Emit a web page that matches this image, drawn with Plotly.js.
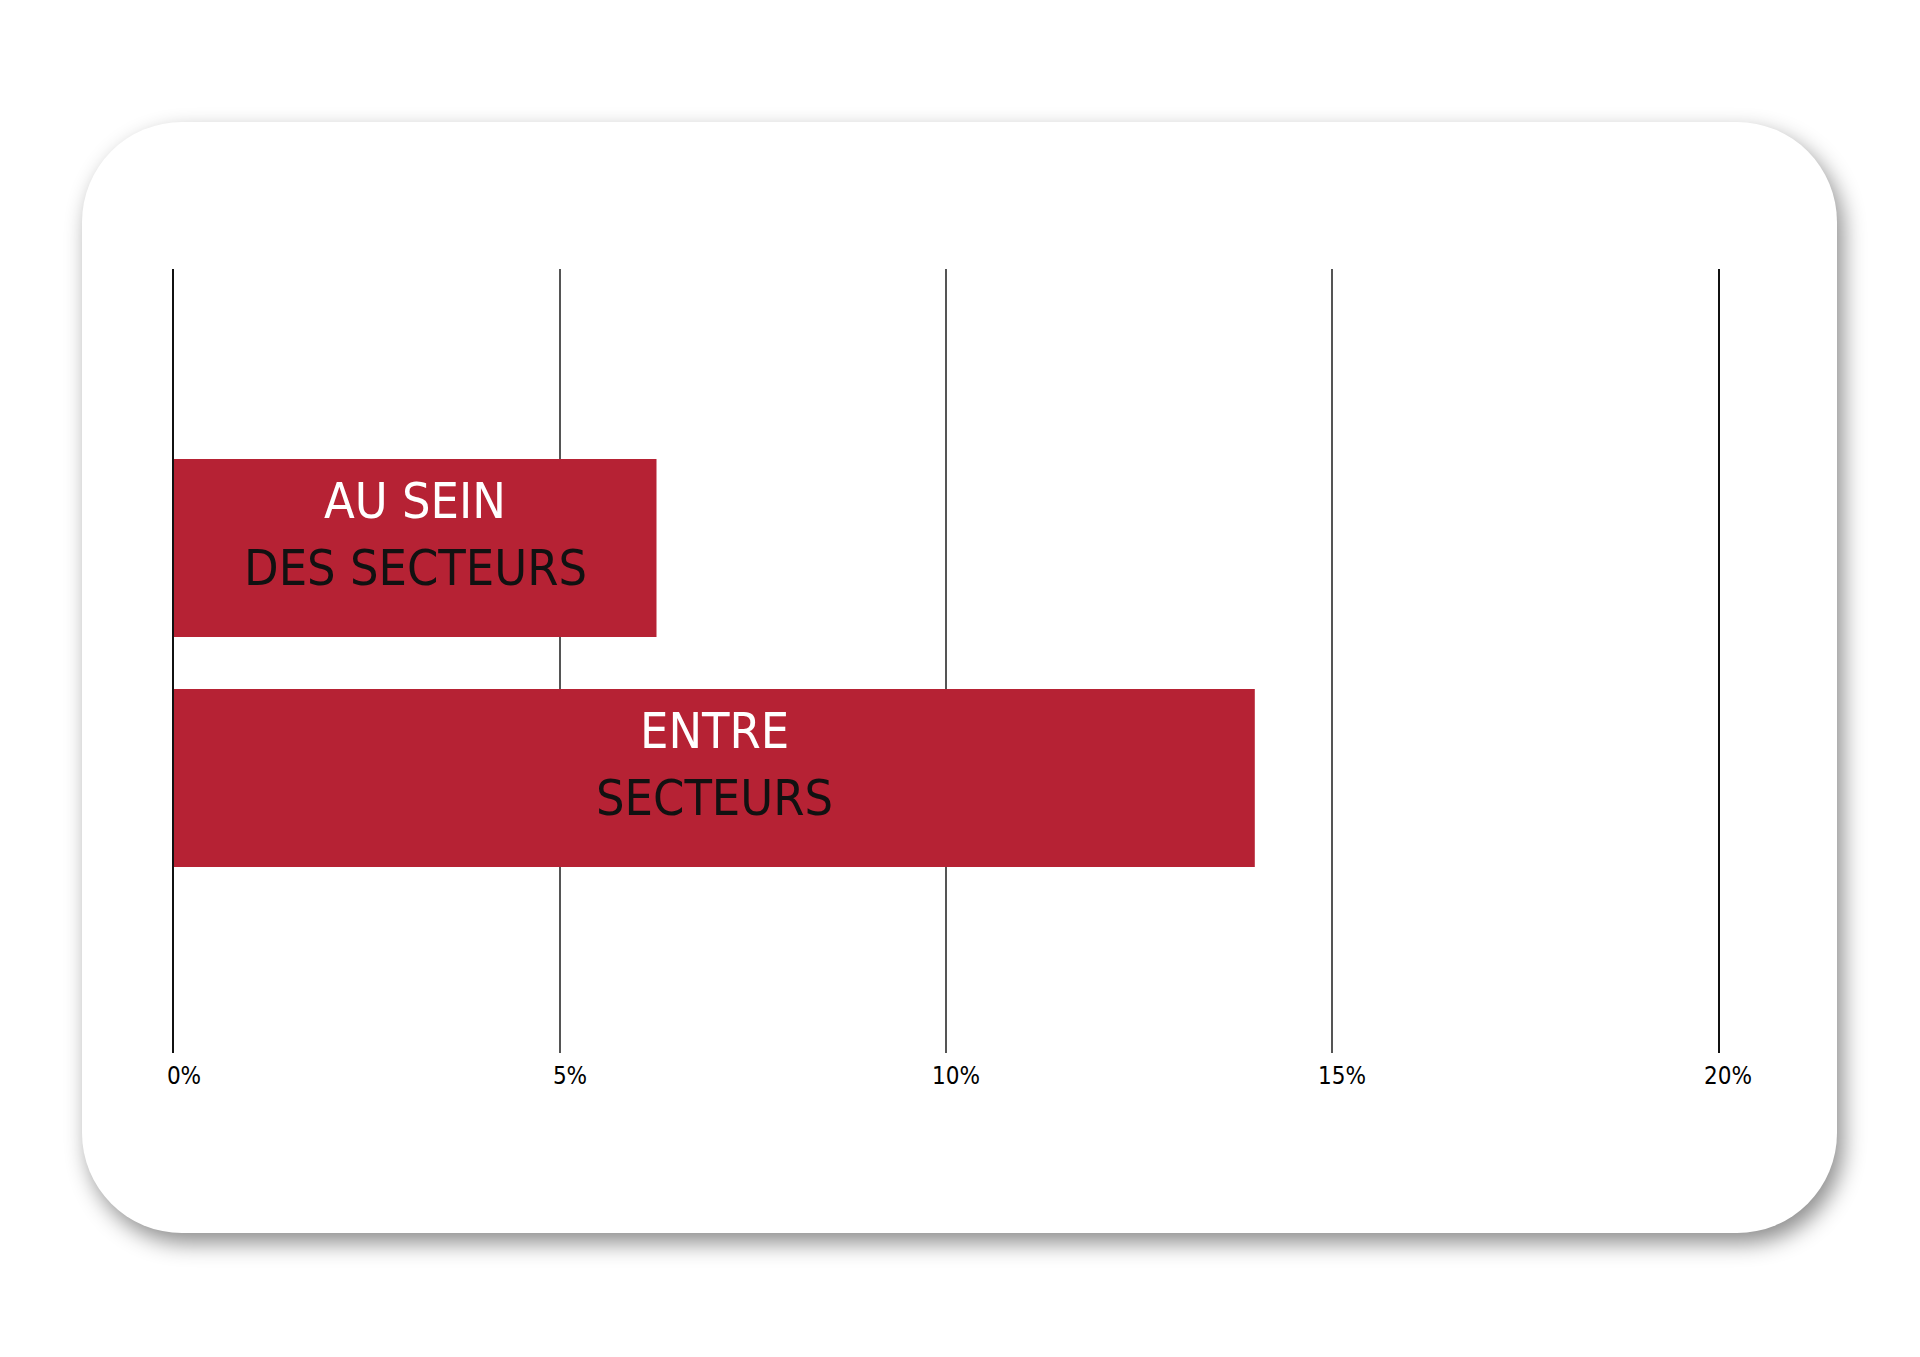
<!DOCTYPE html>
<html>
<head>
<meta charset="utf-8">
<script src="https://cdn.plot.ly/plotly-3.0.1.min.js"></script>
<style>
  html, body { margin: 0; padding: 0; background: #fff; }
  body { width: 1920px; height: 1357px; position: relative; overflow: hidden; }
  #card {
    position: absolute; left: 82px; top: 122px; width: 1755px; height: 1111px;
    background: #fff; border-radius: 100px;
    box-shadow: 6px 10px 22px rgba(0,0,0,0.45);
  }
  #chart { position: absolute; left: 0; top: 0; width: 1920px; height: 1357px; }
</style>
</head>
<body>
<div id="card"></div>
<div id="chart"></div>
<script>
// parts des inégalités
var categories = ['au sein', 'entre'];
var values = [6.25, 14.0];
var labelsTop = ['AU SEIN', 'ENTRE'];
var labelsBottom = ['DES SECTEURS', 'SECTEURS'];
var tickVals = [0, 5, 10, 15, 20];
var tickText = ['0%', '5%', '10%', '15%', '20%'];

var fontName = '"DejaVu Sans Condensed", "Liberation Sans Narrow", sans-serif';
var rouge = '#b62234';

var data = [{
  type: 'bar',
  orientation: 'h',
  x: values,
  y: categories,
  marker: { color: rouge },
  hoverinfo: 'none'
}];

var annots = [];
for (var i = 0; i < categories.length; i++) {
  annots.push({
    x: values[i] / 2, y: categories[i], xref: 'x', yref: 'y',
    text: labelsTop[i], showarrow: false, yshift: 47,
    font: { family: fontName, size: 50, color: '#ffffff' }
  });
  annots.push({
    x: values[i] / 2, y: categories[i], xref: 'x', yref: 'y',
    text: labelsBottom[i], showarrow: false, yshift: -20,
    font: { family: fontName, size: 50, color: '#111111' }
  });
}

var layout = {
  width: 1920, height: 1357,
  margin: { l: 174, r: 202, t: 269, b: 304 },
  paper_bgcolor: 'rgba(0,0,0,0)',
  plot_bgcolor: 'rgba(0,0,0,0)',
  showlegend: false,
  bargap: 0.226,
  xaxis: {
    range: [0, 20],
    tickvals: tickVals,
    ticktext: tickText,
    showgrid: true,
    gridcolor: '#555555',
    gridwidth: 2,
    zeroline: false,
    showline: false,
    ticks: '',
    ticklabelshift: 10,
    ticklabelstandoff: 6,
    tickfont: { family: fontName, size: 24, color: '#000000' }
  },
  yaxis: {
    range: [2.196, -1.213],
    showticklabels: false,
    showgrid: false,
    zeroline: false,
    showline: true,
    mirror: true,
    linecolor: '#111111',
    linewidth: 2,
    ticks: ''
  },
  annotations: annots
};

Plotly.newPlot('chart', data, layout, { displayModeBar: false, staticPlot: true });
</script>
</body>
</html>
